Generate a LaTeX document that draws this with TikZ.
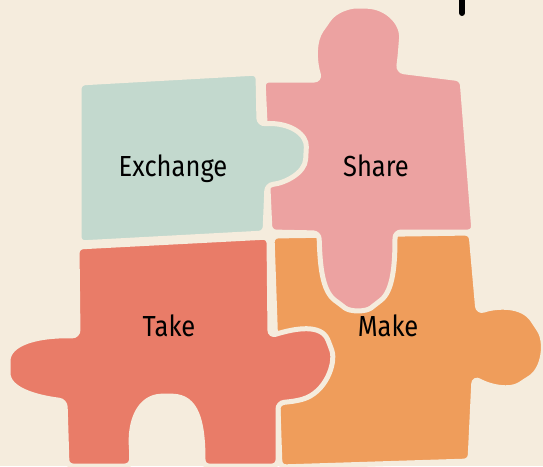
\documentclass[tikz,border=0pt]{standalone}
\usepackage{xcolor}
\usepackage{fontspec}
\setmainfont{Fira Sans}
\usepackage{tikz}

\definecolor{paper}{RGB}{245,236,221}
\definecolor{mint}{RGB}{195,217,206}
\definecolor{rose}{RGB}{236,162,161}
\definecolor{coral}{RGB}{233,124,104}
\definecolor{apricot}{RGB}{239,157,91}

\begin{document}
\begin{tikzpicture}[x=1pt,y=-1pt,
    piece/.style={draw=paper,line width=5pt,rounded corners=6pt},
    word/.style={draw=none,anchor=base,xscale=.88,font=\fontsize{29}{32}\selectfont}]
             \fill[paper] (0,0) rectangle (543,466);
             \useasboundingbox (0,0) rectangle (543,466);

             % bar of a title letter, cut off at the top
             \draw[line width=6pt,line cap=round] (462,-8) -- (462,13);

             % Make
             \filldraw[piece,fill=apricot] (272,236) -- (471,233) -- (478,312)
                .. controls (496,306) and (522,304) .. (536,325)
                .. controls (547,342) and (544,369) .. (525,381)
                .. controls (510,391) and (490,387) .. (474,378)
                -- (470,461) -- (280,467) -- cycle;

             % Share
             \filldraw[piece,fill=rose] (263,80) -- (320,80)
                .. controls (314,60) and (314,40) .. (325,25)
                .. controls (335,10) and (350,6) .. (362,6)
                .. controls (386,7) and (403,22) .. (401,45)
                .. controls (400,58) and (399,65) .. (398,71)
                -- (462,79) -- (474,232) -- (395,232)
                .. controls (395,265) and (393,291) .. (376,304)
                .. controls (366,312) and (350,312) .. (340,304)
                .. controls (322,291) and (320,265) .. (319,233)
                -- (270,232) -- cycle;

             % Take
             \filldraw[piece,fill=coral] (77,247) -- (269,237) -- (270,336)
                .. controls (296,328) and (321,324) .. (330,345)
                .. controls (336,363) and (326,393) .. (296,401)
                -- (278,403) -- (278,466) -- (203,466)
                .. controls (203,420) and (196,397) .. (167,396)
                .. controls (140,397) and (129,420) .. (132,455)
                -- (131,466) -- (67,466) -- (65,401)
                .. controls (34,397) and (8,389) .. (8,367)
                .. controls (8,344) and (35,335) .. (78,336) -- cycle;

             % Exchange
             \filldraw[piece,fill=mint] (79,83) -- (258,73) -- (259,124)
                .. controls (291,122) and (307,135) .. (306,153)
                .. controls (305,173) and (285,183) .. (267,185)
                -- (265,233) -- (79,243) -- cycle;

             \node[word] (exchange) at (173,176.5) {Exchange};
             \node[word] (share) at (376,176) {Share};
             \node[word] (take) at (169,336) {Take};
             \node[word] (make) at (388,336) {Make};
\end{tikzpicture}
\end{document}
